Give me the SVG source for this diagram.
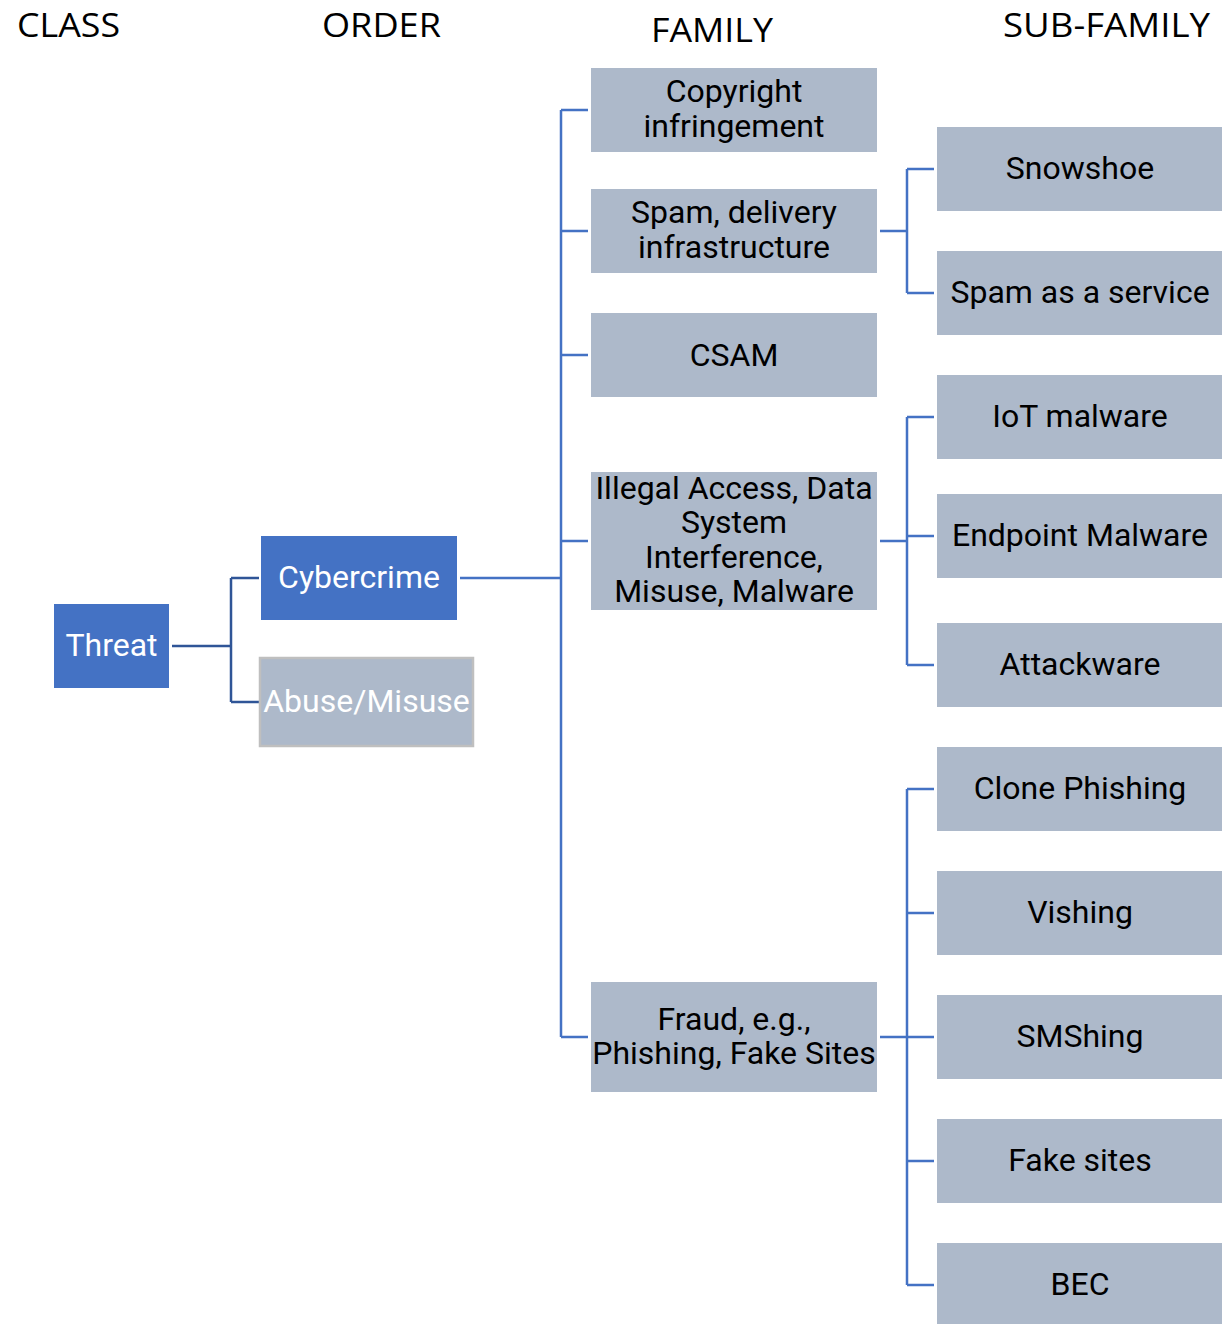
<svg xmlns="http://www.w3.org/2000/svg" width="1222" height="1324" viewBox="0 0 1222 1324">
<style>
.hdr{font-family:"Open Sans","Noto Sans",sans-serif;font-size:33px;fill:#000}
.t{font-family:Roboto,"Noto Sans",sans-serif;font-size:32px;text-anchor:middle;fill:#000}
.w{fill:#fff}
.blue{fill:#4472C4}
.grey{fill:#ADB9CA}
.c{fill:none;stroke:#4472C4;stroke-width:2.5}
.cd{fill:none;stroke:#2F5597;stroke-width:2.5}
</style>
<rect width="1222" height="1324" fill="#fff"/>
<g id="headers">
<text class="hdr" x="17" y="37" textLength="103" lengthAdjust="spacingAndGlyphs">CLASS</text>
<text class="hdr" x="322" y="37" textLength="119" lengthAdjust="spacingAndGlyphs">ORDER</text>
<text class="hdr" x="651" y="42" textLength="122" lengthAdjust="spacingAndGlyphs">FAMILY</text>
<text class="hdr" x="1003" y="37" textLength="207" lengthAdjust="spacingAndGlyphs">SUB-FAMILY</text>
</g>
<g id="connectors">
<path class="cd" d="M172 646H231M231 578V702M231 578H259M231 702H259"/>
<path class="c" d="M460 578H561M561 110V1037M561 110H588M561 231H588M561 355H588M561 541H588M561 1037H588"/>
<path class="c" d="M880 231H907M907 169V293M907 169H934M907 293H934"/>
<path class="c" d="M880 541H907M907 417V665M907 417H934M907 536H934M907 665H934"/>
<path class="c" d="M880 1037H907M907 789V1285M907 789H934M907 913H934M907 1037H934M907 1161H934M907 1285H934"/>
</g>
<g id="threat"><rect class="blue" x="54" y="604" width="115" height="84"/><text class="t w" x="111.5" y="656">Threat</text></g>
<g id="cybercrime"><rect class="blue" x="261" y="536" width="196" height="84"/><text class="t w" x="359" y="588">Cybercrime</text></g>
<g id="abuse"><rect class="grey" x="260" y="658" width="213" height="88" stroke="#BFBFBF" stroke-width="2.5"/><text class="t w" x="366.5" y="712">Abuse/Misuse</text></g>
<g id="copyright"><rect class="grey" x="591" y="68" width="286" height="84"/><text class="t" x="734" y="102">Copyright</text><text class="t" x="734" y="137">infringement</text></g>
<g id="spam-delivery"><rect class="grey" x="591" y="189" width="286" height="84"/><text class="t" x="734" y="223">Spam, delivery</text><text class="t" x="734" y="258">infrastructure</text></g>
<g id="csam"><rect class="grey" x="591" y="313" width="286" height="84"/><text class="t" x="734" y="366">CSAM</text></g>
<g id="illegal-access"><rect class="grey" x="591" y="472" width="286" height="138"/><text class="t" x="734" y="499">Illegal Access, Data</text><text class="t" x="734" y="533">System</text><text class="t" x="734" y="568">Interference,</text><text class="t" x="734" y="602">Misuse, Malware</text></g>
<g id="fraud"><rect class="grey" x="591" y="982" width="286" height="110"/><text class="t" x="734" y="1030">Fraud, e.g.,</text><text class="t" x="734" y="1064">Phishing, Fake Sites</text></g>
<g id="snowshoe"><rect class="grey" x="937" y="127" width="285" height="84"/><text class="t" x="1080" y="179">Snowshoe</text></g>
<g id="spam-service"><rect class="grey" x="937" y="251" width="285" height="84"/><text class="t" x="1080" y="303">Spam as a service</text></g>
<g id="iot"><rect class="grey" x="937" y="375" width="285" height="84"/><text class="t" x="1080" y="427">IoT malware</text></g>
<g id="endpoint"><rect class="grey" x="937" y="494" width="285" height="84"/><text class="t" x="1080" y="546">Endpoint Malware</text></g>
<g id="attackware"><rect class="grey" x="937" y="623" width="285" height="84"/><text class="t" x="1080" y="675">Attackware</text></g>
<g id="clone"><rect class="grey" x="937" y="747" width="285" height="84"/><text class="t" x="1080" y="799">Clone Phishing</text></g>
<g id="vishing"><rect class="grey" x="937" y="871" width="285" height="84"/><text class="t" x="1080" y="923">Vishing</text></g>
<g id="smshing"><rect class="grey" x="937" y="995" width="285" height="84"/><text class="t" x="1080" y="1047">SMShing</text></g>
<g id="fake-sites"><rect class="grey" x="937" y="1119" width="285" height="84"/><text class="t" x="1080" y="1171">Fake sites</text></g>
<g id="bec"><rect class="grey" x="937" y="1243" width="285" height="81"/><text class="t" x="1080" y="1295">BEC</text></g>
</svg>
